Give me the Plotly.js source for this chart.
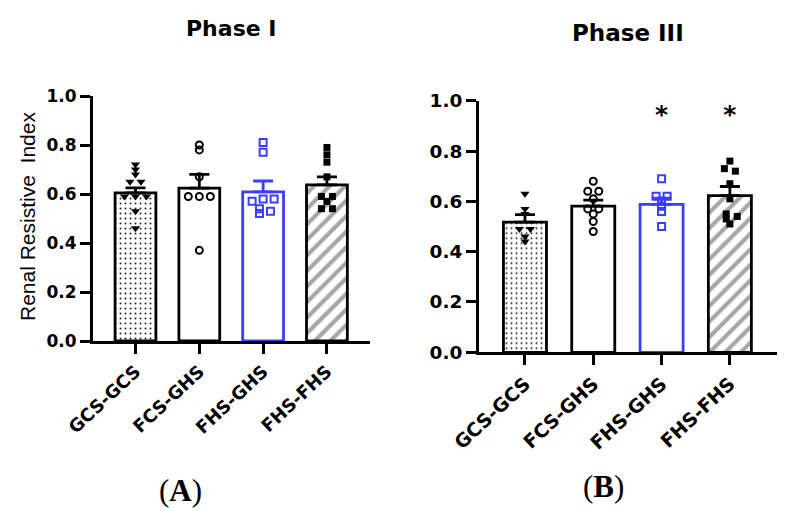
<!DOCTYPE html>
<html>
<head>
<meta charset="utf-8">
<script src="https://cdn.plot.ly/plotly-3.0.1.min.js"></script>
<style>html,body{margin:0;padding:0;background:#fff;}#chart{width:787px;height:511px;}</style>
</head>
<body>
<div id="chart"></div>
<script>
// ---- data ----
const categories = ['GCS-GCS', 'FCS-GHS', 'FHS-GHS', 'FHS-FHS'];
const yTickVals = [0, 0.2, 0.4, 0.6, 0.8, 1.0];
const yTickText = ['0.0', '0.2', '0.4', '0.6', '0.8', '1.0'];

const phase1Means = [0.605, 0.624, 0.609, 0.637];
const phase1Sem   = [0.02, 0.056, 0.044, 0.033];
const phase1GCSGCS = [0.72, 0.70, 0.68, 0.65, 0.65, 0.59, 0.59, 0.59, 0.53, 0.46];
const phase1FCSGHS = [0.80, 0.78, 0.67, 0.59, 0.59, 0.59, 0.37];
const phase1FHSGHS = [0.81, 0.77, 0.58, 0.58, 0.57, 0.54, 0.53, 0.52];
const phase1FHSFHS = [0.79, 0.76, 0.73, 0.67, 0.59, 0.59, 0.57, 0.54, 0.54];

const phase3Means = [0.517, 0.581, 0.588, 0.623];
const phase3Sem   = [0.03, 0.024, 0.025, 0.036];
const phase3GCSGCS = [0.63, 0.57, 0.55, 0.49, 0.49, 0.46, 0.44];
const phase3FCSGHS = [0.68, 0.64, 0.64, 0.61, 0.57, 0.57, 0.55, 0.52, 0.48];
const phase3FHSGHS = [0.69, 0.62, 0.62, 0.60, 0.58, 0.56, 0.50];
const phase3FHSFHS = [0.76, 0.73, 0.72, 0.67, 0.61, 0.55, 0.54, 0.53, 0.51];

const starCategories = ['FHS-GHS', 'FHS-FHS'];
const starLabel = '*';

// ---- styles ----
const BLUE = '#3d3dff';
const barStyles = [
  {fill: 'white', line: 'black', pattern: {shape: '.', fgcolor: '#222', bgcolor: 'white', size: 5, solidity: 0.12}},
  {fill: 'white', line: 'black', pattern: null},
  {fill: 'white', line: BLUE, pattern: null},
  {fill: 'white', line: 'black', pattern: {shape: '/', fgcolor: '#a6a6a6', bgcolor: 'white', size: 11, solidity: 0.38}}
];
const pointStyles = [
  {symbol: 'triangle-down', size: 8, color: 'black', lw: 0},
  {symbol: 'circle-open', size: 7, color: 'black', lw: 2},
  {symbol: 'square-open', size: 7, color: BLUE, lw: 2},
  {symbol: 'square', size: 7, color: 'black', lw: 0}
];

// simple beeswarm: spread points that sit at (nearly) the same height, then centre each cluster
function swarm(vals, pxX, pxY, dx, dy) {
  const placed = [];
  vals.forEach(v => {
    const py = v * pxY;
    for (let k = 0; k < 30; k++) {
      const off = k === 0 ? 0 : (k % 2 ? 1 : -1) * Math.ceil(k / 2) * dx;
      if (!placed.some(p => Math.abs(p.x - off) < dx * 0.99 && Math.abs(p.y - py) < dy)) {
        placed.push({x: off, y: py});
        return;
      }
    }
    placed.push({x: 0, y: py});
  });
  // clusters: chains of points closer than dy vertically
  const idx = placed.map((p, i) => i).sort((a, b) => placed[a].y - placed[b].y);
  let cluster = [idx[0]];
  const flush = () => {
    const mean = cluster.reduce((s, i) => s + placed[i].x, 0) / cluster.length;
    cluster.forEach(i => { placed[i].x -= mean; });
  };
  for (let j = 1; j < idx.length; j++) {
    if (placed[idx[j]].y - placed[idx[j - 1]].y < dy) cluster.push(idx[j]);
    else { flush(); cluster = [idx[j]]; }
  }
  flush();
  return placed.map(p => p.x / pxX);
}

const traces = [];
function addPanel(means, sems, pts, xa, ya, pxX, pxY, bw) {
  categories.forEach((c, i) => {
    const st = barStyles[i];
    const m = {color: st.fill, line: {color: st.line, width: 2.8}};
    if (st.pattern) m.pattern = st.pattern;
    traces.push({
      type: 'bar', x: [i], y: [means[i]], width: bw, marker: m,
      xaxis: xa, yaxis: ya, hoverinfo: 'skip',
      error_y: {type: 'data', symmetric: false, array: [sems[i]], arrayminus: [0],
                color: st.line, thickness: 2.8, width: 10}
    });
  });
  pts.forEach((vals, i) => {
    const ps = pointStyles[i];
    const offs = swarm(vals, pxX, pxY, 11, 3);
    traces.push({
      type: 'scatter', mode: 'markers', x: offs.map(o => i + o), y: vals,
      xaxis: xa, yaxis: ya, cliponaxis: false, hoverinfo: 'skip',
      marker: {symbol: ps.symbol, size: ps.size, color: ps.color, line: {color: ps.color, width: ps.lw}}
    });
  });
}
addPanel(phase1Means, phase1Sem, [phase1GCSGCS, phase1FCSGHS, phase1FHSGHS, phase1FHSFHS], 'x', 'y', 63.8, 245, 0.64);
addPanel(phase3Means, phase3Sem, [phase3GCSGCS, phase3FCSGHS, phase3FHSGHS, phase3FHSFHS], 'x2', 'y2', 68.3, 251.6, 0.63);

traces.push({
  type: 'scatter', mode: 'text', xaxis: 'x2', yaxis: 'y2', cliponaxis: false, hoverinfo: 'skip',
  x: starCategories.map(c => categories.indexOf(c)), y: starCategories.map(() => 0.935),
  text: starCategories.map(() => starLabel), textposition: 'middle center',
  textfont: {family: 'DejaVu Sans', size: 25, weight: 'bold', color: 'black'}
});

function xAxis(dom, rng, anchor, fs) {
  return {domain: dom, range: rng, anchor: anchor, tickvals: [0, 1, 2, 3], ticktext: categories,
    tickangle: -43, showline: true, linewidth: 3, linecolor: 'black', ticks: 'outside', ticklen: 10,
    tickwidth: 3, tickcolor: 'black', showgrid: false, zeroline: false, fixedrange: true,
    tickfont: {family: 'DejaVu Sans', size: fs, weight: 'bold', color: 'black'}};
}
function yAxis(dom, anchor, fs) {
  return {domain: dom, range: [0, 1], anchor: anchor, tickvals: yTickVals, ticktext: yTickText,
    showline: true, linewidth: 3, linecolor: 'black', ticks: 'outside', ticklen: 10,
    tickwidth: 3, tickcolor: 'black', showgrid: false, zeroline: false, fixedrange: true,
    tickfont: {family: 'DejaVu Sans', size: fs, weight: 'bold', color: 'black'}};
}

const W = 787, H = 511;
const layout = {
  width: W, height: H, margin: {l: 0, r: 0, t: 0, b: 0},
  paper_bgcolor: 'white', plot_bgcolor: 'rgba(0,0,0,0)', showlegend: false, barmode: 'overlay',
  xaxis: xAxis([93 / W, 370 / W], [-0.666, 3.675], 'y', 18),
  yaxis: yAxis([(H - 341) / H, (H - 96) / H], 'x', 17),
  xaxis2: xAxis([479 / W, 777 / W], [-0.673, 3.69], 'y2', 19),
  yaxis2: yAxis([(H - 352.3) / H, (H - 100.7) / H], 'x2', 18.5),
  annotations: [
    {text: 'Phase I', x: 231 / W, y: 1 - 28 / H, xref: 'paper', yref: 'paper', showarrow: false,
     xanchor: 'center', yanchor: 'middle', font: {family: 'DejaVu Sans', size: 22, weight: 'bold', color: 'black'}},
    {text: 'Phase III', x: 628 / W, y: 1 - 33 / H, xref: 'paper', yref: 'paper', showarrow: false,
     xanchor: 'center', yanchor: 'middle', font: {family: 'DejaVu Sans', size: 23, weight: 'bold', color: 'black'}},
    {text: 'Renal Resistive\u00a0 Index', x: 28 / W, y: 1 - 217 / H, xref: 'paper', yref: 'paper', showarrow: false,
     textangle: -90, xanchor: 'center', yanchor: 'middle', font: {family: 'Liberation Sans', size: 21, color: 'black'}},
    {text: '(<b>A</b>)', x: 180 / W, y: 1 - 490 / H, xref: 'paper', yref: 'paper', showarrow: false,
     xanchor: 'center', yanchor: 'middle', font: {family: 'Liberation Serif', size: 31, color: 'black'}},
    {text: '(<b>B</b>)', x: 603 / W, y: 1 - 486 / H, xref: 'paper', yref: 'paper', showarrow: false,
     xanchor: 'center', yanchor: 'middle', font: {family: 'Liberation Serif', size: 31, color: 'black'}}
  ]
};

Plotly.newPlot('chart', traces, layout, {staticPlot: true, displayModeBar: false});
</script>
</body>
</html>
